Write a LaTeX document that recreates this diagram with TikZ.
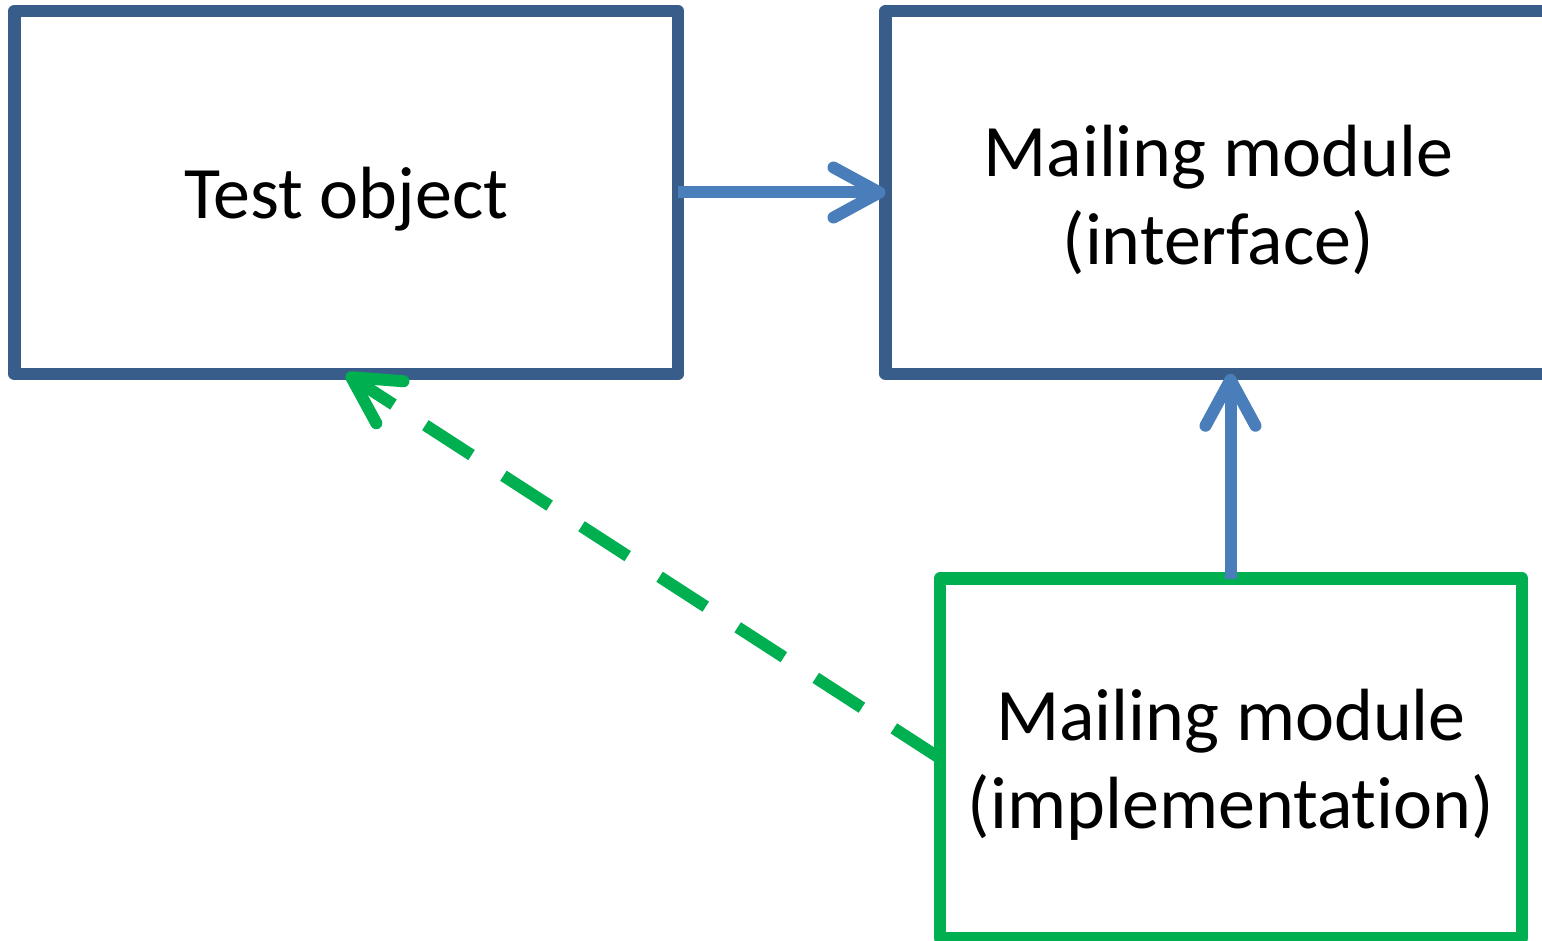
\documentclass[tikz,border=0pt]{standalone}
\usepackage{fontspec}
\setmainfont{Carlito}[Ligatures=NoCommon]
\usetikzlibrary{arrows.meta}
\definecolor{boxblue}{HTML}{385D8A}
\definecolor{arrowblue}{HTML}{4A7EBB}
\definecolor{implgreen}{HTML}{00B050}
\tikzset{
  box/.style={draw=boxblue, line width=12.5pt, line join=round, outer sep=0pt, inner sep=0pt},
  greenbox/.style={box, draw=implgreen},
  boxtext/.style={align=center, font=\fontsize{74}{88}\selectfont, text=black, yshift=-7pt, inner sep=0pt},
  conn/.style={draw=arrowblue, line width=12pt, -{Straight Barb[round, length=46pt, width=50pt]}},
  dashconn/.style={draw=implgreen, line width=12pt, dash pattern=on 55pt off 38pt,
    -{Straight Barb[round, length=46pt, width=50pt]}}
}
\begin{document}
\begin{tikzpicture}[x=1pt,y=-1pt]
\useasboundingbox (0,0) rectangle (1542,941);
\clip (0,0) rectangle (1542,941);
\node[box, minimum width=663.5pt, minimum height=363pt,
  label={[boxtext]center:Test object}] (test) at (346.25,192.5) {};
\node[box, minimum width=665.5pt, minimum height=362.5pt,
  label={[boxtext]center:Mailing module\\(interface)}] (iface) at (1218.25,192.5) {};
\node[greenbox, minimum width=582pt, minimum height=359.5pt,
  label={[boxtext]center:Mailing module\\(implementation)}] (impl) at (1231,758.25) {};
\draw[conn] (test.east) -- (iface.west);
\coordinate (implTop) at (1230.5,578.5);
\draw[conn] (implTop) -- (implTop |- iface.south);
\draw[dashconn] (impl.west) -- (test.south);
\end{tikzpicture}
\end{document}
